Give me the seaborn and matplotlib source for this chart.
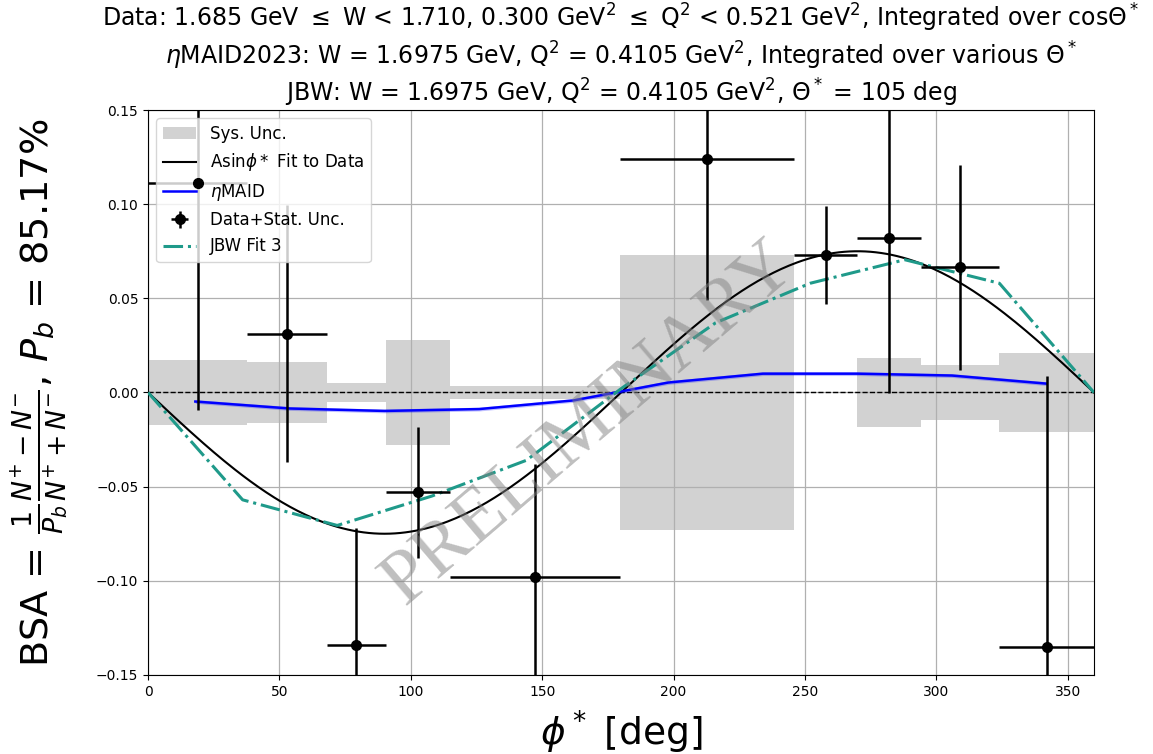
import numpy as np
import matplotlib
matplotlib.use("Agg")
import matplotlib.pyplot as plt
import seaborn as sns

# ---------------- data ----------------
bin_edges = [0.0, 37.7, 68.0, 90.6, 115.0, 179.6, 246.0, 270.0, 294.0, 324.0, 360.0]
bsa_values = [0.1115, 0.0313, -0.134, -0.0531, -0.098, 0.124, 0.0728, 0.0818, 0.0665, -0.135]
stat_unc = [0.121, 0.068, 0.062, 0.035, 0.060, 0.075, 0.026, 0.082, 0.0545, 0.144]
sys_unc = [0.0175, 0.016, 0.0048, 0.028, 0.0037, 0.073, 0.0, 0.0185, 0.0145, 0.021]

fit_amplitude = -0.075  # A in A*sin(phi*)

maid_phi = [18, 54, 90, 126, 162, 198, 234, 270, 306, 342]
maid_bsa = [-0.0048, -0.0085, -0.0098, -0.0088, -0.0042, 0.0053, 0.0100, 0.0100, 0.0090, 0.0047]
maid_unc = [0.0010, 0.0010, 0.0010, 0.0010, 0.0010, 0.0010, 0.0010, 0.0010, 0.0010, 0.0010]

jbw_phi = [0, 36, 72, 108, 144, 180, 216, 252, 288, 324, 360]
jbw_bsa = [0.0, -0.057, -0.0706, -0.055, -0.036, 0.002, 0.037, 0.058, 0.0705, 0.058, 0.0]

x_ticks = [0, 50, 100, 150, 200, 250, 300, 350]
y_ticks = [-0.15, -0.10, -0.05, 0.00, 0.05, 0.10, 0.15]

title_lines = [
    r"Data: 1.685 GeV $\leq$ W < 1.710, 0.300 GeV$^2$ $\leq$ Q$^2$ < 0.521 GeV$^2$, Integrated over cos$\Theta^*$",
    r"$\eta$MAID2023: W = 1.6975 GeV, Q$^2$ = 0.4105 GeV$^2$, Integrated over various $\Theta^*$",
    r"JBW: W = 1.6975 GeV, Q$^2$ = 0.4105 GeV$^2$, $\Theta^*$ = 105 deg",
]
ylabel_text = r"BSA = $\frac{1}{P_b}\frac{N^{+}-N^{-}}{N^{+}+N^{-}}$, $P_b$ = 85.17%"
xlabel_text = r"$\phi^*$ [deg]"

# ---------------- figure ----------------
W_PX, H_PX = 1153, 754
fig = plt.figure(figsize=(W_PX / 100, H_PX / 100), dpi=100)
ax = fig.add_axes([0.1284, 0.1048, 0.8204, 0.7493])

edges = np.array(bin_edges)
centers = 0.5 * (edges[:-1] + edges[1:])
half_w = 0.5 * np.diff(edges)
sys_arr = np.array(sys_unc)

# systematic uncertainty band
ax.bar(edges[:-1], 2 * sys_arr, bottom=-sys_arr, width=np.diff(edges), align="edge",
       color="gray", alpha=0.35, linewidth=0, zorder=1, label="Sys. Unc.")

# zero line
ax.axhline(0.0, color="black", linestyle="--", linewidth=1.0, zorder=2)

# A sin(phi) fit
phi_fit = np.linspace(0, 360, 361)
sns.lineplot(x=phi_fit, y=fit_amplitude * np.sin(np.radians(phi_fit)), ax=ax,
             color="black", linewidth=1.5, label=r"Asin$\phi*$ Fit to Data", zorder=3)

# eta MAID
m_phi = np.array(maid_phi)
m_bsa = np.array(maid_bsa)
m_unc = np.array(maid_unc)
ax.fill_between(m_phi, m_bsa - m_unc, m_bsa + m_unc, color="blue", alpha=0.25, linewidth=0, zorder=3)
sns.lineplot(x=m_phi, y=m_bsa, ax=ax, color="blue", linewidth=1.8, label=r"$\eta$MAID", zorder=4)

# data points
ax.errorbar(centers, bsa_values, xerr=half_w, yerr=stat_unc, fmt="o", color="black",
            markersize=7, elinewidth=1.8, capsize=0, zorder=5, label="Data+Stat. Unc.")

# JBW
sns.lineplot(x=jbw_phi, y=jbw_bsa, ax=ax, color="#1f9a8a", linewidth=2.2, linestyle="-.",
             label="JBW Fit 3", zorder=4)

# watermark
ax.text(168, -0.0165, "PRELIMINARY", fontsize=55, family="Liberation Serif", color="gray",
        alpha=0.5, rotation=40.5, ha="center", va="center", zorder=6)

ax.set_xlim(0, 360)
ax.set_ylim(-0.15, 0.15)
ax.set_xticks(x_ticks)
ax.set_yticks(y_ticks)
ax.set_axisbelow("line")
ax.grid(True, color="#b0b0b0", linewidth=0.9)

# three-line title, each line placed separately
x_center = (148 + 1094) / 2 / W_PX
for line, base_px in zip(title_lines, [27, 65, 102]):
    fig.text(x_center, 1 - base_px / H_PX, line, fontsize=17, ha="center", va="baseline")

ax.set_ylabel(ylabel_text, fontsize=27.5, labelpad=19)
ax.set_xlabel(xlabel_text, fontsize=27, labelpad=7)

handles, labels = ax.get_legend_handles_labels()
order = ["Sys. Unc.", r"Asin$\phi*$ Fit to Data", r"$\eta$MAID", "Data+Stat. Unc.", "JBW Fit 3"]
hmap = dict(zip(labels, handles))
ax.legend([hmap[k] for k in order], order, loc="upper left", fontsize=12, framealpha=0.8)

fig.savefig("out.png", dpi=100)
